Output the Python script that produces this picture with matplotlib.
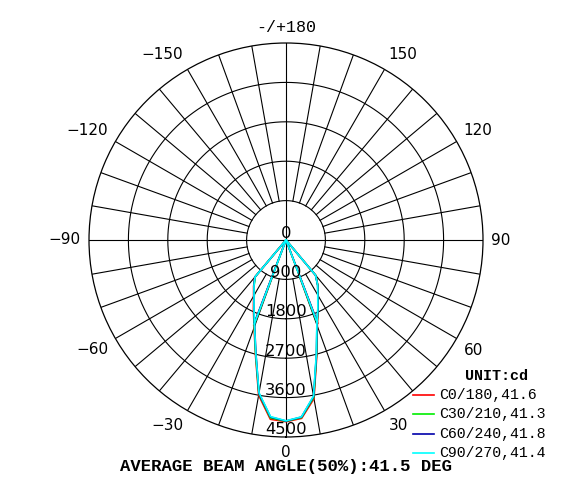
import numpy as np
import matplotlib
matplotlib.use('Agg')
import matplotlib.pyplot as plt
import matplotlib.transforms as mtransforms
from matplotlib.lines import Line2D

plt.rcParams['font.family'] = ['DejaVu Sans']

# gamma angles (deg), negative = left half
gamma = [-45, -40, -35, -30, -25, -20, -15, -10, -5, 0, 5, 10, 15, 20, 25, 30, 35, 40, 45]

c0_180 = [0, 1110, 1290, 1480, 1760, 2130, 2700, 3600, 4110, 4150, 4090, 3680, 2720, 2090, 1740, 1470, 1270, 1060, 0]
c30_210 = [0, 1090, 1270, 1450, 1740, 2110, 2680, 3570, 4080, 4140, 4070, 3650, 2700, 2070, 1730, 1460, 1265, 1055, 0]
c60_240 = [0, 1105, 1280, 1465, 1735, 2095, 2660, 3560, 4060, 4135, 4060, 3630, 2690, 2065, 1725, 1455, 1262, 1048, 0]
c90_270 = [0, 1100, 1275, 1460, 1730, 2100, 2670, 3545, 4050, 4130, 4055, 3620, 2680, 2060, 1720, 1450, 1260, 1050, 0]

series = [c0_180, c30_210, c60_240, c90_270]
names = ['C0/180', 'C30/210', 'C60/240', 'C90/270']
beam = [41.6, 41.3, 41.8, 41.4]
colors = ['#ff0000', '#00ee00', '#0000aa', '#00ffff']

ring_vals = [900, 1800, 2700, 3600, 4500]
angle_labels = [0, 30, 60, 90, 120, 150, 180, -150, -120, -90, -60, -30]
avg_beam = 41.5

W, H = 581, 501
fig = plt.figure(figsize=(W / 100, H / 100), dpi=100)
ax = fig.add_axes([89 / W, 64 / H, 394 / W, 394 / H], projection='polar')
ax.set_theta_zero_location('S')
ax.set_theta_direction(1)
ax.set_rlim(0, 4500)
ax.set_xticks([])
ax.set_yticks([])
ax.grid(False)
ax.spines['polar'].set_linewidth(0.9)
ax.spines['polar'].set_color('black')

# grid
th = np.linspace(0, 2 * np.pi, 721)
for rv in ring_vals[:-1]:
    ax.plot(th, np.full_like(th, rv), color='black', lw=0.8, zorder=1)
for a in range(0, 360, 10):
    r0 = 0 if a % 90 == 0 else ring_vals[0]
    ax.plot([np.radians(a)] * 2, [r0, ring_vals[-1]], color='black', lw=0.8, zorder=1)

# curves
g = np.radians(gamma)
for vals, col, b in zip(series, colors, beam):
    ax.plot(g, vals, color=col, lw=1.2, zorder=3)
    half = b / 2
    for s in (-half, half):
        rr = np.interp(s, gamma, vals)
        ax.plot([np.radians(s)] * 2, [0, rr], color=col, lw=1.2, zorder=3)

# ring labels
toff = mtransforms.offset_copy(ax.transData, fig=fig, x=0, y=7, units='dots')
ax.text(0, 0, '0', transform=toff, ha='center', va='center', fontsize=11.8, zorder=5)
for rv in ring_vals:
    ax.text(0, rv, str(rv), transform=toff, ha='center', va='center', fontsize=11.8, zorder=5)

# angle labels
R = 205 / 197 * 4500
for a in angle_labels:
    s, c = np.sin(np.radians(a)), -np.cos(np.radians(a))
    ha = 'center' if abs(s) < 0.1 else ('left' if s > 0 else 'right')
    va = 'center' if abs(c) < 0.1 else ('bottom' if c > 0 else 'top')
    if a == 180:
        ax.text(np.radians(a), R, '-/+180', ha=ha, va=va, fontsize=12,
                family='Liberation Mono', clip_on=False)
    else:
        ax.text(np.radians(a), R, str(a).replace('-', '\u2212'), ha=ha, va=va,
                fontsize=11, clip_on=False)

def px(x, y):
    return x / W, 1 - y / H

# legend
fig.text(*px(497, 376), 'UNIT:cd', ha='center', va='center', fontsize=10.8,
         family='Liberation Mono', weight='bold')
for i, (n, col, b) in enumerate(zip(names, colors, beam)):
    y = 395 + i * 19.3
    x0, y0 = px(413, y)
    x1, _ = px(434, y)
    fig.add_artist(Line2D([x0, x1], [y0, y0], color=col, lw=1.2, transform=fig.transFigure))
    fig.text(*px(439, y), '%s,%.1f' % (n, b), ha='left', va='center', fontsize=10.7,
             family='Liberation Mono')

fig.text(*px(286, 466), 'AVERAGE BEAM ANGLE(50%%):%.1f DEG' % avg_beam, ha='center',
         va='center', fontsize=12.4, family='Liberation Mono', weight='bold')

fig.savefig('out.png', dpi=100)
